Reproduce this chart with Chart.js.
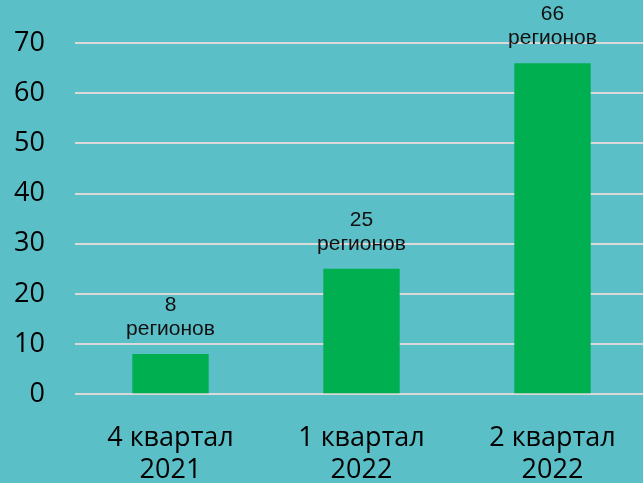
<!DOCTYPE html>
<html>
<head>
<meta charset="utf-8">
<script src="https://cdn.jsdelivr.net/npm/chart.js@4"></script>
<style>
  html, body { margin: 0; padding: 0; background: #5BBFC8; overflow: hidden; }
  #wrap { width: 643px; height: 483px; overflow: hidden; position: relative; }
  #box { position: absolute; left: 0; top: -3px; width: 648px; height: 530px; }
</style>
</head>
<body>
<div id="wrap"><div id="box"><canvas id="chart"></canvas></div></div>
<script>
const CATEGORIES = [['4 квартал', '2021'], ['1 квартал', '2022'], ['2 квартал', '2022']];
const VALUES = [8, 25, 66];
const VALUE_LABELS = ['8', '25', '66'];
const UNIT = 'регионов';

// two-line labels above each bar
const topLabels = {
  id: 'topLabels',
  afterDatasetsDraw(chart) {
    const { ctx } = chart;
    const meta = chart.getDatasetMeta(0);
    ctx.save();
    ctx.fillStyle = '#111111';
    ctx.font = '21px "Liberation Sans", Arial, sans-serif';
    ctx.textAlign = 'center';
    ctx.textBaseline = 'alphabetic';
    meta.data.forEach((bar, i) => {
      ctx.fillText(VALUE_LABELS[i], bar.x, bar.y - 43);
      ctx.fillText(UNIT, bar.x, bar.y - 19);
    });
    ctx.restore();
  }
};

new Chart(document.getElementById('chart'), {
  type: 'bar',
  data: {
    labels: CATEGORIES,
    datasets: [{
      data: VALUES,
      backgroundColor: '#00B050',
      categoryPercentage: 1,
      barPercentage: 0.4,
    }],
  },
  options: {
    responsive: true,
    maintainAspectRatio: false,
    animation: false,
    layout: { padding: { left: 0, right: 0, top: 20, bottom: 12 } },
    plugins: { legend: { display: false }, tooltip: { enabled: false } },
    scales: {
      x: {
        grid: { display: false, drawTicks: false },
        border: { display: false },
        ticks: {
          color: '#000000',
          padding: 28,
          font: { family: '"Open Sans", sans-serif', size: 27, lineHeight: 1.2 },
        },
      },
      y: {
        min: 0,
        max: 70,
        afterFit: (axis) => { axis.width = 75; },
        ticks: {
          stepSize: 10,
          color: '#000000',
          padding: 30,
          font: { family: '"Open Sans", sans-serif', size: 27 },
        },
        grid: { color: '#D9D9D9', lineWidth: 2, drawTicks: false },
        border: { display: false },
      },
    },
  },
  plugins: [topLabels],
});
</script>
</body>
</html>
